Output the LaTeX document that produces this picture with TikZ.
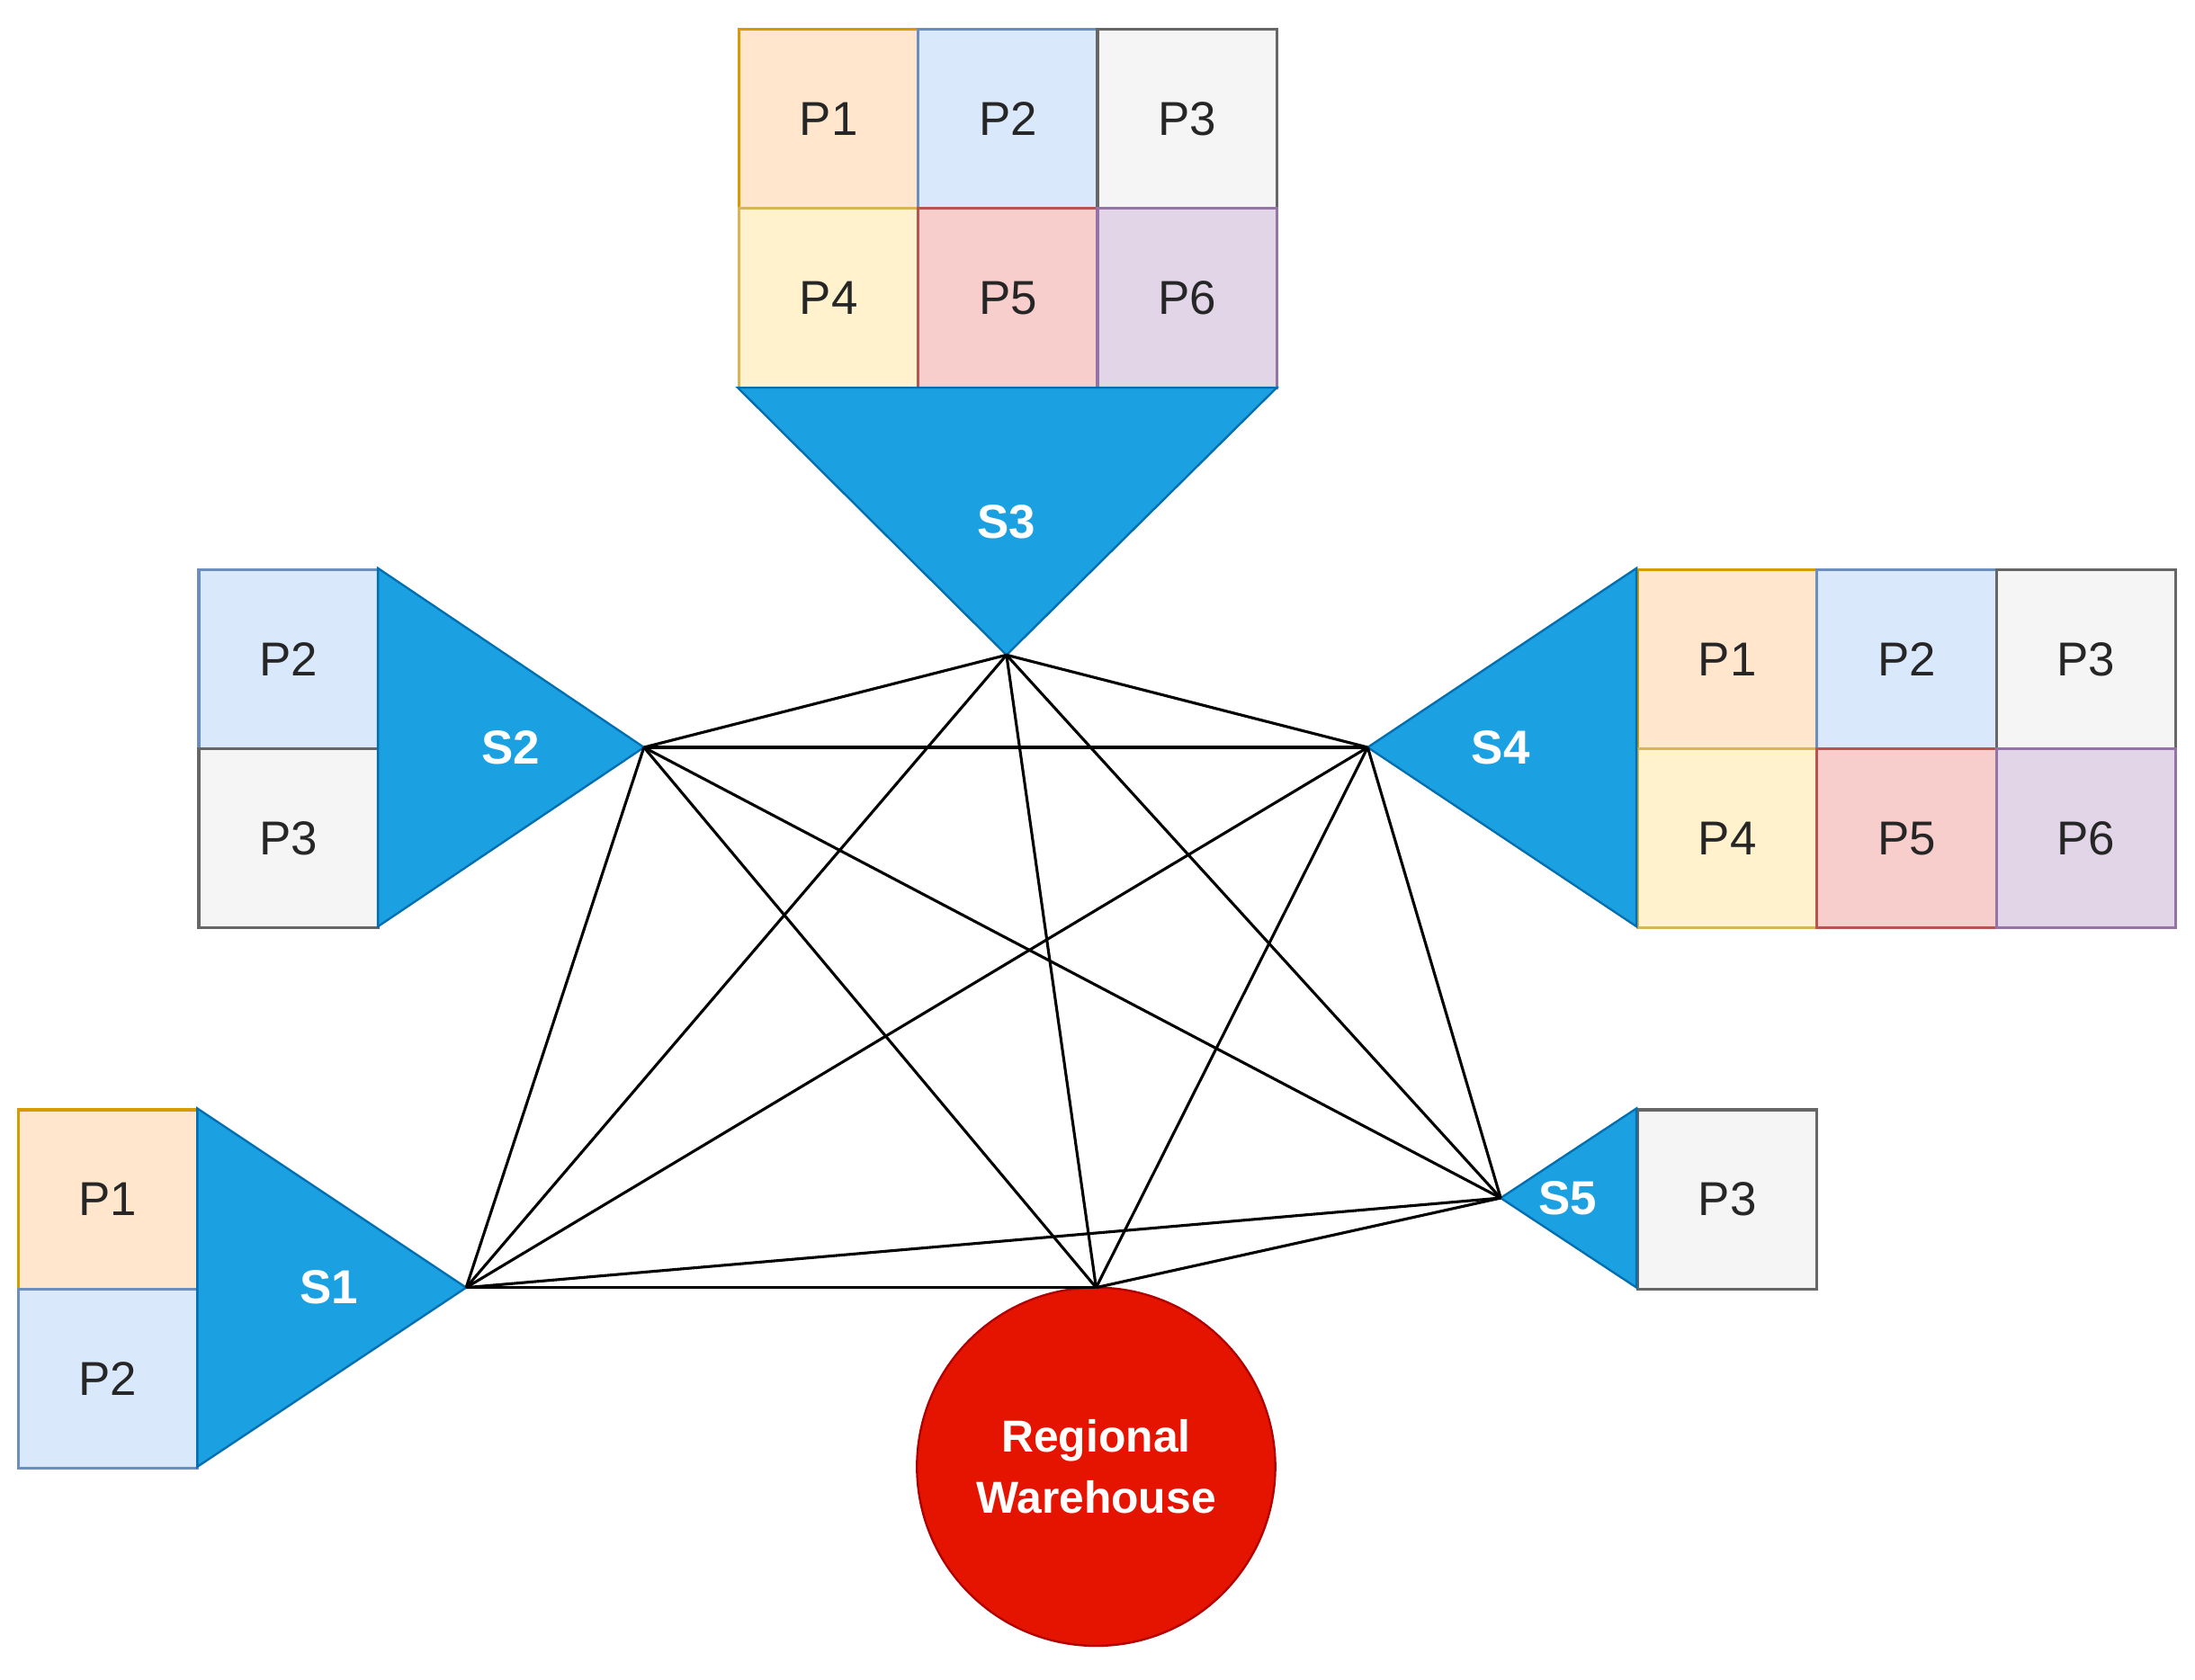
\documentclass[tikz,border=0pt]{standalone}
\usepackage{fontspec}
\setmainfont{Liberation Sans}
\begin{document}
\definecolor{f1}{HTML}{FFE6CC}\definecolor{s1}{HTML}{D79B00}
\definecolor{f2}{HTML}{DAE8FC}\definecolor{s2}{HTML}{6C8EBF}
\definecolor{f3}{HTML}{F5F5F5}\definecolor{s3}{HTML}{666666}
\definecolor{f4}{HTML}{FFF2CC}\definecolor{s4}{HTML}{D6B656}
\definecolor{f5}{HTML}{F8CECC}\definecolor{s5}{HTML}{B85450}
\definecolor{f6}{HTML}{E1D5E7}\definecolor{s6}{HTML}{9673A6}
\definecolor{tri}{HTML}{1BA1E2}\definecolor{tris}{HTML}{006EAF}
\definecolor{wh}{HTML}{E51400}\definecolor{whs}{HTML}{B20000}
\begin{tikzpicture}[x=1pt,y=-1pt,
  cell/.style={draw=s#1,fill=f#1,line width=2pt,minimum size=128pt,inner sep=0pt,anchor=north west,font=\fontsize{34}{38}\selectfont,text=black!85},
  tri/.style={fill=tri,draw=tris,line width=1.5pt},
  slab/.style={text=white,font=\bfseries\fontsize{34}{38}\selectfont},
  edge/.style={line width=2pt,black}]
\useasboundingbox (0,0) rectangle (1568,1200);
% S3
\node[cell=1] (a1) at (527,20) {P1};
\node[cell=2] (a2) at (655,20) {P2};
\node[cell=3] (a3) at (783,20) {P3};
\node[cell=4] (a4) at (527,148) {P4};
\node[cell=5] (a5) at (655,148) {P5};
\node[cell=6] (a6) at (783,148) {P6};
\filldraw[tri] (527,277) -- (912,277) -- (719,468) -- cycle;
\node[slab] (l3) at (719,373) {S3};
\coordinate (t3) at (719,468);
% S2
\node[cell=2] (b1) at (141,406) {P2};
\node[cell=3] (b2) at (141,534) {P3};
\filldraw[tri] (270,406) -- (270,662) -- (460,534) -- cycle;
\node[slab] (l2) at (365,534) {S2};
\coordinate (t2) at (460,534);
% S4
\node[cell=1] (c1) at (1169,406) {P1};
\node[cell=2] (c2) at (1297,406) {P2};
\node[cell=3] (c3) at (1425,406) {P3};
\node[cell=4] (c4) at (1169,534) {P4};
\node[cell=5] (c5) at (1297,534) {P5};
\node[cell=6] (c6) at (1425,534) {P6};
\filldraw[tri] (1169,406) -- (1169,662) -- (977,534) -- cycle;
\node[slab] (l4) at (1072,534) {S4};
\coordinate (t4) at (977,534);
% S1
\node[cell=1] (d1) at (12,792) {P1};
\node[cell=2] (d2) at (12,920) {P2};
\filldraw[tri] (141,792) -- (141,1048) -- (333,920) -- cycle;
\node[slab] (l1) at (235,920) {S1};
\coordinate (t1) at (333,920);
% S5
\node[cell=3] (e1) at (1169,792) {P3};
\filldraw[tri] (1169,792) -- (1169,920) -- (1072,856) -- cycle;
\node[slab] (l5) at (1120,856) {S5};
\coordinate (t5) at (1072,856);
% Warehouse
\node[circle,fill=wh,draw=whs,line width=1.5pt,minimum size=256pt,inner sep=0pt,text=white,align=center,font=\bfseries\fontsize{32}{44}\selectfont] (w) at (783,1048) {Regional\\Warehouse};
\coordinate (tw) at (783,920);
% edges
\foreach \a/\b in {t1/t2,t1/t3,t1/t4,t1/t5,t1/tw,t2/t3,t2/t4,t2/t5,t2/tw,t3/t4,t3/t5,t3/tw,t4/t5,t4/tw,t5/tw}
  \draw[edge] (\a) -- (\b);
\end{tikzpicture}
\end{document}
